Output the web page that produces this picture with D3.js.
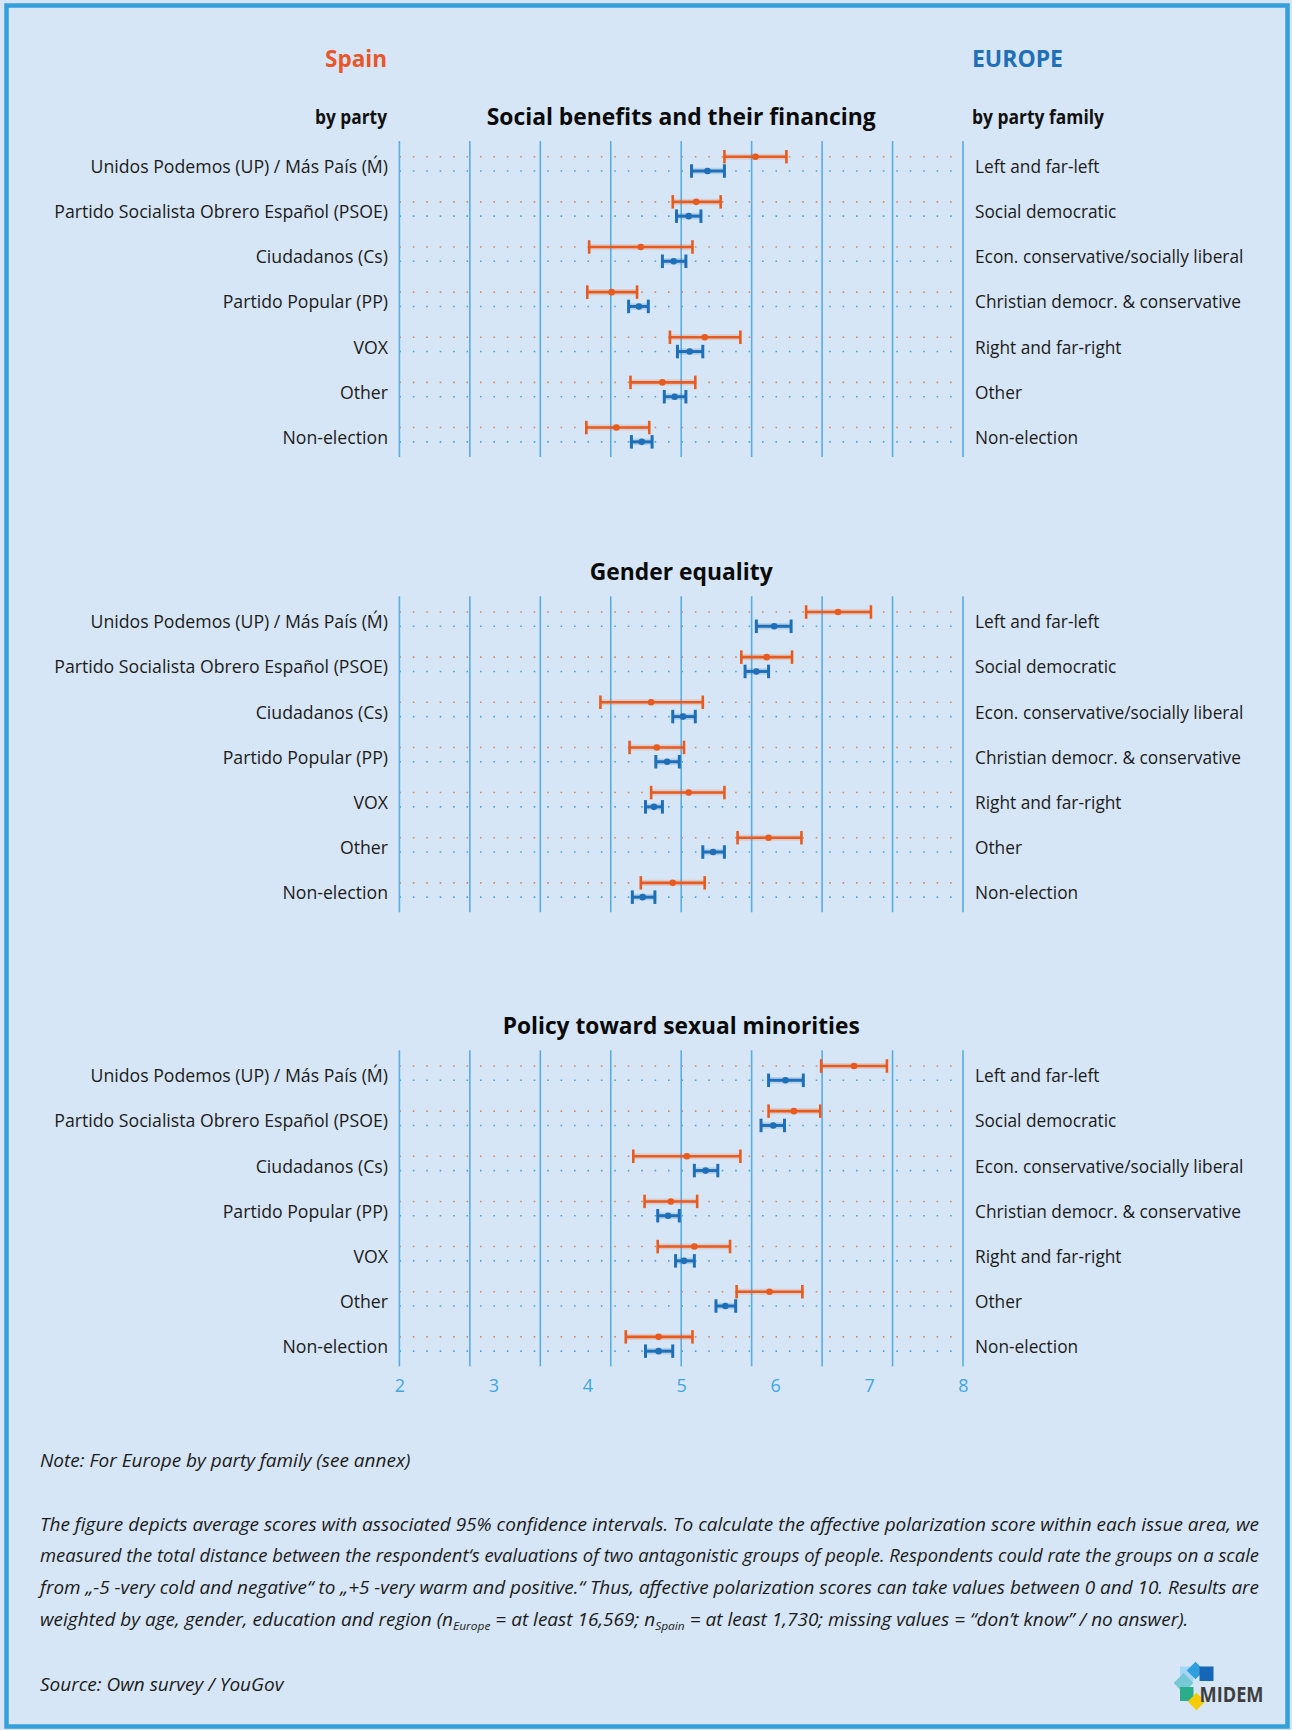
<!DOCTYPE html>
<html>
<head>
<meta charset="utf-8">
<script src="https://cdn.jsdelivr.net/npm/d3@7"></script>
<style>
  html, body { margin: 0; padding: 0; background: #d6e6f6; }
  svg { display: block; }
  text { font-family: "Open Sans", "Noto Sans", sans-serif; }
</style>
</head>
<body>
<script>
// ---- data -------------------------------------------------------------
const topics = [
  "Social benefits and their financing",
  "Gender equality",
  "Policy toward sexual minorities"
];
const spainParties = [
  "Unidos Podemos (UP) / Más País (Ḿ)",
  "Partido Socialista Obrero Español (PSOE)",
  "Ciudadanos (Cs)",
  "Partido Popular (PP)",
  "VOX",
  "Other",
  "Non-election"
];
const europeFamilies = [
  "Left and far-left",
  "Social democratic",
  "Econ. conservative/socially liberal",
  "Christian democr. & conservative",
  "Right and far-right",
  "Other",
  "Non-election"
];
const tickLabels = [2, 3, 4, 5, 6, 7, 8];

// each entry: [lower 95% bound, mean, upper 95% bound]
const benefitsSpain = [[5.46, 5.79, 6.12], [4.91, 5.16, 5.42], [4.02, 4.57, 5.12], [4.00, 4.26, 4.53], [4.88, 5.25, 5.63], [4.46, 4.80, 5.15], [3.99, 4.31, 4.66]];
const benefitsEurope = [[5.11, 5.28, 5.46], [4.95, 5.08, 5.21], [4.80, 4.92, 5.05], [4.44, 4.55, 4.65], [4.96, 5.09, 5.23], [4.82, 4.93, 5.05], [4.47, 4.58, 4.69]];
const genderSpain = [[6.33, 6.67, 7.02], [5.64, 5.91, 6.18], [4.14, 4.68, 5.23], [4.45, 4.74, 5.03], [4.68, 5.08, 5.46], [5.60, 5.93, 6.28], [4.57, 4.91, 5.25]];
const genderEurope = [[5.80, 5.99, 6.17], [5.68, 5.80, 5.93], [4.91, 5.02, 5.15], [4.73, 4.85, 4.98], [4.62, 4.71, 4.80], [5.23, 5.34, 5.46], [4.48, 4.59, 4.72]];
const minoritiesSpain = [[6.49, 6.84, 7.19], [5.93, 6.20, 6.48], [4.49, 5.06, 5.63], [4.61, 4.89, 5.17], [4.75, 5.14, 5.52], [5.59, 5.94, 6.29], [4.41, 4.76, 5.12]];
const minoritiesEurope = [[5.93, 6.11, 6.30], [5.85, 5.98, 6.10], [5.14, 5.26, 5.39], [4.75, 4.86, 4.98], [4.94, 5.03, 5.14], [5.37, 5.47, 5.58], [4.62, 4.76, 4.91]];

const spainSeries = [benefitsSpain, genderSpain, minoritiesSpain];
const europeSeries = [benefitsEurope, genderEurope, minoritiesEurope];

// ---- layout -----------------------------------------------------------
const W = 1292, H = 1730;
const ORANGE = "#e95a1e", BLUE = "#1e6fb8", GRID = "#58ade5";
const panelTops = [141, 596.3, 1050.3];
const panelH = 316;

const x = d3.scaleLinear().domain([2, 8]).range([399.4, 963]);
const gridValues = d3.range(9).map(i => 2 + i * 0.75);
const row = d3.scaleBand().domain(d3.range(spainParties.length)).range([0, panelH]);
const spainOffset = 15.7, europeOffset = 30;

const svg = d3.select("body").append("svg").attr("width", W).attr("height", H);

svg.append("rect").attr("width", W).attr("height", H).attr("fill", "#d6e6f6");
svg.append("rect").attr("x", 6.5).attr("y", 5.5).attr("width", W - 11).attr("height", H - 9)
  .attr("fill", "none").attr("stroke", "#36a0dc").attr("stroke-width", 4.5);

// ---- headers ----------------------------------------------------------
function fitText(sel, len) {
  sel.attr("textLength", len).attr("lengthAdjust", "spacingAndGlyphs");
  return sel;
}
fitText(svg.append("text").attr("x", 387).attr("y", 67).attr("text-anchor", "end")
  .attr("font-size", 23).attr("font-weight", 700).attr("fill", "#e8562a").text("Spain"), 62);
fitText(svg.append("text").attr("x", 972).attr("y", 67)
  .attr("font-size", 23).attr("font-weight", 700).attr("fill", "#1f70b6").text("EUROPE"), 91);
fitText(svg.append("text").attr("x", 387).attr("y", 123.5).attr("text-anchor", "end")
  .attr("font-size", 19).attr("font-weight", 700).attr("fill", "#111").text("by party"), 72);
fitText(svg.append("text").attr("x", 972).attr("y", 123.5)
  .attr("font-size", 19).attr("font-weight", 700).attr("fill", "#111").text("by party family"), 132);

const titleWidths = [389, 183, 357];

// ---- panels -----------------------------------------------------------
topics.forEach((topic, p) => {
  const g = svg.append("g").attr("transform", `translate(0,${panelTops[p]})`);

  fitText(g.append("text").attr("x", x(5)).attr("y", -16).attr("text-anchor", "middle")
    .attr("font-size", 23).attr("font-weight", 700).attr("fill", "#0a0a0a").text(topic), titleWidths[p]);

  // dotted guide lines for each row
  d3.range(spainParties.length).forEach(i => {
    g.append("line").attr("x1", x(2)).attr("x2", x(8))
      .attr("y1", row(i) + spainOffset).attr("y2", row(i) + spainOffset)
      .attr("stroke", "#d98a62").attr("stroke-width", 1.6)
      .attr("stroke-dasharray", "1.6 11.83");
    g.append("line").attr("x1", x(2)).attr("x2", x(8))
      .attr("y1", row(i) + europeOffset).attr("y2", row(i) + europeOffset)
      .attr("stroke", "#47a6e2").attr("stroke-width", 1.6)
      .attr("stroke-dasharray", "1.6 11.83");
  });

  // vertical grid
  g.selectAll("line.grid").data(gridValues).join("line").attr("class", "grid")
    .attr("x1", d => x(d)).attr("x2", d => x(d))
    .attr("y1", 0).attr("y2", panelH)
    .attr("stroke", GRID).attr("stroke-width", 1.6);

  // row labels
  g.selectAll("text.left").data(spainParties).join("text").attr("class", "left")
    .attr("x", 388).attr("y", (d, i) => row(i) + 32).attr("text-anchor", "end")
    .attr("font-size", 17.7).attr("fill", "#1b1b1b").text(d => d);
  g.selectAll("text.right").data(europeFamilies).join("text").attr("class", "right")
    .attr("x", 975).attr("y", (d, i) => row(i) + 32)
    .attr("font-size", 17.3).attr("fill", "#1b1b1b").text(d => d);

  drawIntervals(g, spainSeries[p], spainOffset, ORANGE, 2.6, 13.5, 3.3);
  drawIntervals(g, europeSeries[p], europeOffset, BLUE, 3, 13.5, 3.3);

  if (p === topics.length - 1) {
    const axis = d3.axisBottom(x).tickValues(tickLabels).tickFormat(d3.format("d")).tickSize(0).tickPadding(13);
    const ax = g.append("g").attr("transform", `translate(0,${panelH})`).call(axis);
    ax.select(".domain").remove();
    ax.selectAll("text").attr("font-size", 18).attr("fill", "#3fa6e0")
      .attr("font-family", "'Open Sans', sans-serif");
  }
});

function drawIntervals(g, data, offset, color, sw, capH, r) {
  const items = g.append("g").selectAll("g").data(data).join("g")
    .attr("transform", (d, i) => `translate(0,${row(i) + offset})`);
  items.append("line").attr("x1", d => x(d[0])).attr("x2", d => x(d[2]))
    .attr("stroke", color).attr("stroke-width", sw + 3.5).attr("stroke-opacity", 0.18);
  items.append("line").attr("x1", d => x(d[0])).attr("x2", d => x(d[2]))
    .attr("stroke", color).attr("stroke-width", sw);
  [0, 2].forEach(k => {
    items.append("line").attr("x1", d => x(d[k])).attr("x2", d => x(d[k]))
      .attr("y1", -capH / 2).attr("y2", capH / 2)
      .attr("stroke", color).attr("stroke-width", sw);
  });
  items.append("circle").attr("cx", d => x(d[1])).attr("r", r).attr("fill", color);
}

// ---- notes ------------------------------------------------------------
const notes = svg.append("g").attr("font-style", "italic").attr("fill", "#1b1b1b").attr("font-size", 17.5);
const noteX = 40;
const note = notes.append("text").attr("x", noteX).attr("y", 1467).text("Note: For Europe by party family (see annex)");
const paraLines = [
  "The figure depicts average scores with associated 95% confidence intervals. To calculate the affective polarization score within each issue area, we",
  "measured the total distance between the respondent‘s evaluations of two antagonistic groups of people. Respondents could rate the groups on a scale",
  "from „-5 -very cold and negative“ to „+5 -very warm and positive.“ Thus, affective polarization scores can take values between 0 and 10. Results are"
];
const paraY = [1530.5, 1562, 1594, 1625.5];
const paraNodes = paraLines.map((t, i) => notes.append("text").attr("x", noteX).attr("y", paraY[i]).text(t));
const last = notes.append("text").attr("x", noteX).attr("y", paraY[3]);
last.append("tspan").text("weighted by age, gender, education and region (n");
last.append("tspan").attr("font-size", 11).attr("dy", 4).text("Europe");
last.append("tspan").attr("dy", -4).text(" = at least 16,569; n");
last.append("tspan").attr("font-size", 11).attr("dy", 4).text("Spain");
last.append("tspan").attr("dy", -4).text(" = at least 1,730; missing values = “don’t know” / no answer).");
const source = notes.append("text").attr("x", noteX).attr("y", 1690.5).text("Source: Own survey / YouGov");

// condense the note text to a narrow face; first three paragraph lines are justified
const fullWidth = 1219;
const squeeze = fullWidth / paraNodes[0].node().getComputedTextLength();
paraNodes.forEach(n => fitText(n, fullWidth));
[note, last, source].forEach(n => fitText(n, n.node().getComputedTextLength() * squeeze));

// ---- logo -------------------------------------------------------------
const logo = svg.append("g");
logo.append("rect").attr("x", 1180).attr("y", 1666.5).attr("width", 13.5).attr("height", 15).attr("fill", "#a3d5f5");
logo.append("rect").attr("x", -6.2).attr("y", -6.2).attr("width", 12.4).attr("height", 12.4)
  .attr("transform", "translate(1195.5,1670.5) rotate(45)").attr("fill", "#2f9edc");
logo.append("rect").attr("x", 1199.5).attr("y", 1666.5).attr("width", 14).attr("height", 14.5).attr("fill", "#1566b6");
logo.append("rect").attr("x", -7).attr("y", -7).attr("width", 14).attr("height", 14)
  .attr("transform", "translate(1183.5,1683) rotate(45)").attr("fill", "#72c7d3").attr("opacity", 0.95);
logo.append("rect").attr("x", 1180).attr("y", 1687).attr("width", 13.5).attr("height", 14).attr("fill", "#2aad8b");
logo.append("rect").attr("x", -6.2).attr("y", -6.2).attr("width", 12.4).attr("height", 12.4)
  .attr("transform", "translate(1196.5,1701.5) rotate(45)").attr("fill", "#f4cb04");
fitText(logo.append("text").attr("x", 1199.5).attr("y", 1702).attr("font-size", 22).attr("font-weight", 700)
  .attr("fill", "#3e3e3e").text("MIDEM"), 64);
</script>
</body>
</html>
